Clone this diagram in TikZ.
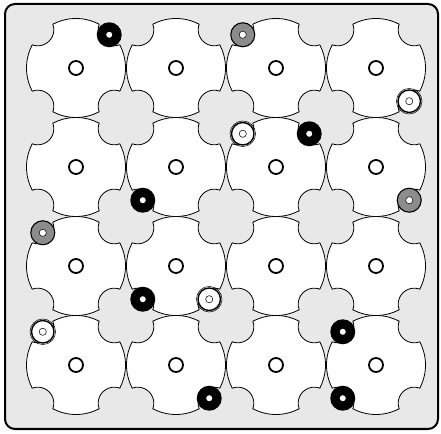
\documentclass[tikz,border=0pt]{standalone}
\usetikzlibrary{calc}
\definecolor{bggray}{RGB}{232,232,232}
\definecolor{mkgray}{RGB}{140,140,140}
\begin{document}
\begin{tikzpicture}[x=1pt,y=1pt,
  disc/.style={fill=white,draw=black,line width=0.8pt},
  hole/.style={circle,draw=black,line width=1.8pt,minimum size=14pt,inner sep=0pt},
  blackmk/.style={circle,fill=black,minimum size=25pt,inner sep=0pt},
  graymk/.style={circle,fill=mkgray,draw=black,line width=1.1pt,minimum size=24pt,inner sep=0pt},
  whitemk/.style={circle,fill=white,draw=black,line width=1.4pt,minimum size=22.5pt,inner sep=0pt}]
\useasboundingbox (0,0) rectangle (441,433);
\draw[fill=bggray,line width=2pt,rounded corners=10pt] (5,4) rectangle (438,429);
\def\R{49.5}\def\D{54}\def\rn{16}
\pgfmathsetmacro\al{acos((\R*\R+\D*\D-\rn*\rn)/(2*\R*\D))}
\pgfmathsetmacro\be{atan2(\R*sin(\al),\R*cos(\al)-\D)}
\foreach \j in {1,...,4}{\foreach \i in {1,...,4}{
  \pgfmathsetmacro\cx{76+100*(\i-1)}
  \pgfmathsetmacro\cy{365-99*(\j-1)}
  \coordinate (c\j\i) at (\cx,\cy);
}}
\foreach \j in {1,...,4}{\foreach \i in {1,...,4}{
  \draw[disc] ($(c\j\i)+({45+\al}:\R)$)
    arc[start angle={45+\al},end angle={135-\al},radius=\R]
    arc[start angle={135-\be},end angle={135-360+\be},radius=\rn]
    arc[start angle={135+\al},end angle={225-\al},radius=\R]
    arc[start angle={225-\be},end angle={225-360+\be},radius=\rn]
    arc[start angle={225+\al},end angle={315-\al},radius=\R]
    arc[start angle={315-\be},end angle={315-360+\be},radius=\rn]
    arc[start angle={315+\al},end angle={405-\al},radius=\R]
    arc[start angle={45-\be},end angle={45-360+\be},radius=\rn]
    -- cycle;
  \node[hole] (o\j\i) at (c\j\i) {};
}}
\node[blackmk] (m1) at ($(c11)+(45:47)$) {};
\node[graymk] (m2) at ($(c13)+(135:47)$) {};
\node[whitemk] (m3) at ($(c14)+(315:47)$) {};
\node[whitemk] (m4) at ($(c23)+(135:47)$) {};
\node[blackmk] (m5) at ($(c23)+(45:47)$) {};
\node[graymk] (m6) at ($(c24)+(315:47)$) {};
\node[blackmk] (m7) at ($(c22)+(225:47)$) {};
\node[graymk] (m8) at ($(c31)+(135:47)$) {};
\node[blackmk] (m9) at ($(c32)+(225:47)$) {};
\node[whitemk] (m10) at ($(c32)+(315:47)$) {};
\node[whitemk] (m11) at ($(c41)+(135:47)$) {};
\node[blackmk] (m12) at ($(c44)+(135:47)$) {};
\node[blackmk] (m13) at ($(c44)+(225:47)$) {};
\node[blackmk] (m14) at ($(c42)+(315:47)$) {};
\foreach \m in {m1,m5,m7,m9,m12,m13,m14}
  \fill[white] (\m.center) circle[radius=3];
\foreach \m in {m2,m6,m8}
  \filldraw[fill=white,draw=black,line width=0.5pt] (\m.center) circle[radius=3.6];
\foreach \m in {m3,m4,m10,m11}{
  \draw[line width=0.5pt] (\m.center) circle[radius=3.6];
  \draw[line width=0.5pt] (\m.center) circle[radius=12.8];
}
\end{tikzpicture}
\end{document}
